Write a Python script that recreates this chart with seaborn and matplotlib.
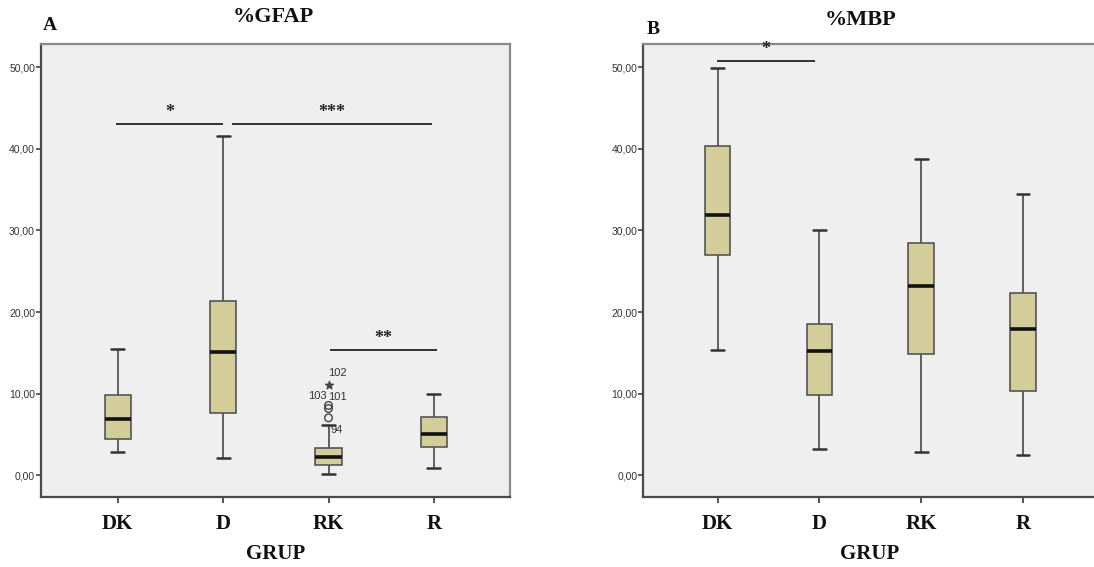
import numpy as np
import pandas as pd
import matplotlib
matplotlib.use("Agg")
import matplotlib.pyplot as plt
import seaborn as sns

# ---------------- data ----------------
groups = ["DK", "D", "RK", "R"]

# %GFAP five-number summaries
gfap_low = [2.9, 2.2, 0.2, 0.86]
gfap_q1 = [4.45, 7.7, 1.26, 3.43]
gfap_med = [6.94, 15.15, 2.3, 5.1]
gfap_q3 = [9.84, 21.4, 3.4, 7.1]
gfap_high = [15.5, 41.6, 6.16, 9.96]
gfap_outlier_group = "RK"
gfap_outliers = [7.06, 8.2, 8.57]
gfap_extremes = [11.1]
gfap_outlier_labels = ["102", "103", "101", "94"]
gfap_label_y = [12.57, 9.75, 9.56, 5.55]
gfap_label_dx = [0.085, -0.105, 0.085, 0.076]

# %MBP five-number summaries
mbp_low = [15.4, 3.3, 2.9, 2.45]
mbp_q1 = [27.0, 9.8, 14.9, 10.4]
mbp_med = [31.9, 15.25, 23.2, 17.9]
mbp_q3 = [40.3, 18.5, 28.5, 22.4]
mbp_high = [49.95, 30.0, 38.7, 34.5]

# significance brackets: (x start, x end, y, label)
gfap_sig = [(-0.02, 1.0, 43.1, "*"), (1.08, 2.98, 43.1, "***"), (2.01, 3.03, 15.4, "**")]
mbp_sig = [(-0.01, 0.96, 50.8, "*")]

yticks = [0, 10, 20, 30, 40, 50]
ytick_labels = ["0,00", "10,00", "20,00", "30,00", "40,00", "50,00"]

# ---------------- style ----------------
sns.set_theme(style="white")
plt.rcParams["font.family"] = ["Liberation Sans", "DejaVu Sans"]

BOX = "#D3CD99"
EDGE = "#4a4a4a"
SERIF = ["Liberation Serif", "DejaVu Serif"]

W, H = 1094, 567
fig = plt.figure(figsize=(W / 100, H / 100), dpi=100)
fig.patch.set_facecolor("white")


def long_frame(low, q1, med, q3, high):
    rows = []
    for g, a, b, c, d, e in zip(groups, low, q1, med, q3, high):
        for v in (a, b, c, d, e):
            rows.append({"GRUP": g, "val": v})
    return pd.DataFrame(rows)


def panel(rect, xlim, df):
    ax = fig.add_axes(rect)
    ax.set_facecolor("#EFEFEF")
    sns.boxplot(
        data=df, x="GRUP", y="val", order=groups, ax=ax,
        whis=np.inf, width=0.25, color=BOX, saturation=1,
        linecolor=EDGE, linewidth=1.1,
        medianprops={"color": "#111111", "linewidth": 2.6},
        whiskerprops={"color": "#555555", "linewidth": 1.3},
        capprops={"color": "#333333", "linewidth": 1.8},
    )
    ax.set_xlim(*xlim)
    ax.set_ylim(-2.6, 52.8)
    ax.set_yticks(yticks)
    ax.set_yticklabels(ytick_labels)
    ax.tick_params(axis="y", direction="out", length=3.5, width=1.1, color="#333333",
                   labelsize=7.5, labelcolor="#333333", pad=0.8, left=True)
    ax.tick_params(axis="x", direction="out", length=4.5, width=1.3, color="#444444",
                   pad=8, bottom=True)
    for lab in ax.get_xticklabels():
        lab.set_fontfamily(SERIF)
        lab.set_fontweight("bold")
        lab.set_fontsize(15)
        lab.set_color("#111111")
    ax.set_ylabel("")
    ax.set_xlabel("GRUP", fontfamily=SERIF, fontweight="bold", fontsize=15,
                  color="#111111", labelpad=7)
    for s in ("left", "bottom"):
        ax.spines[s].set_color("#4a4a4a")
        ax.spines[s].set_linewidth(1.6)
    for s in ("top", "right"):
        ax.spines[s].set_color("#8a8a8a")
        ax.spines[s].set_linewidth(1.6)
    return ax


def brackets(ax, sig):
    for x0, x1, y, lab in sig:
        ax.plot([x0, x1], [y, y], color="#111111", lw=1.2, solid_capstyle="butt")
        ax.text((x0 + x1) / 2, y + 0.35, lab, ha="center", va="bottom",
                fontfamily=SERIF, fontweight="bold", fontsize=13, color="#222222")


# Panel A
axA = panel([41 / W, 1 - 496.7 / H, 469 / W, (496.7 - 44.3) / H], (-0.728, 3.722),
            long_frame(gfap_low, gfap_q1, gfap_med, gfap_q3, gfap_high))
xo = groups.index(gfap_outlier_group)
axA.scatter([xo] * len(gfap_outliers), gfap_outliers, s=30, facecolors="none",
            edgecolors="#444444", linewidths=1.0, zorder=3)
axA.scatter([xo] * len(gfap_extremes), gfap_extremes, marker="*", s=34,
            color="#444444", zorder=3)
for lab, ly, dx in zip(gfap_outlier_labels, gfap_label_y, gfap_label_dx):
    axA.text(xo + dx, ly, lab, ha="center", va="center", fontsize=8, color="#333333")
brackets(axA, gfap_sig)

# Panel B
axB = panel([643.3 / W, 1 - 496.7 / H, 453 / W, (496.7 - 44.3) / H], (-0.73, 3.72),
            long_frame(mbp_low, mbp_q1, mbp_med, mbp_q3, mbp_high))
brackets(axB, mbp_sig)

# Titles and panel letters
fig.text(273.3 / W, 1 - 17.3 / H, "%GFAP", ha="center", va="center",
         fontfamily=SERIF, fontweight="bold", fontsize=16, color="#111111")
fig.text(50 / W, 1 - 26 / H, "A", ha="center", va="center",
         fontfamily=SERIF, fontweight="bold", fontsize=14, color="#111111")
fig.text(860.7 / W, 1 - 20 / H, "%MBP", ha="center", va="center",
         fontfamily=SERIF, fontweight="bold", fontsize=16, color="#111111")
fig.text(653 / W, 1 - 29 / H, "B", ha="center", va="center",
         fontfamily=SERIF, fontweight="bold", fontsize=14, color="#111111")

fig.savefig("out.png", dpi=100)
